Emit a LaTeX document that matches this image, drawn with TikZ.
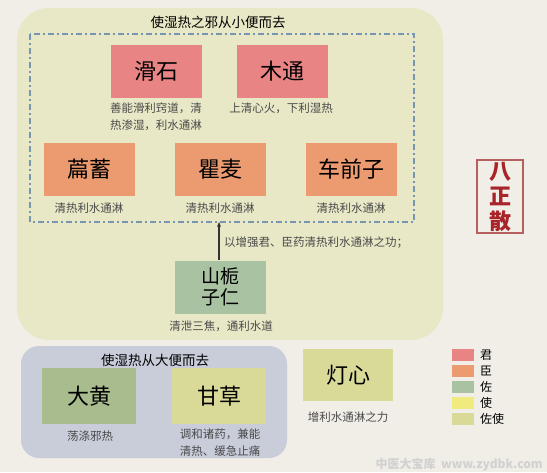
\documentclass[tikz,border=0pt]{standalone}
\usepackage{fontspec}
\setmainfont{Noto Sans CJK SC}
\usetikzlibrary{arrows.meta}
\definecolor{bgc}{HTML}{F1EEE8}
\definecolor{bigc}{HTML}{E8E7C6}
\definecolor{lowc}{HTML}{C9CDDA}
\definecolor{junc}{HTML}{E88484}
\definecolor{chenc}{HTML}{EC9A70}
\definecolor{zuoc}{HTML}{A9C2A2}
\definecolor{dahc}{HTML}{A9BC8E}
\definecolor{shic}{HTML}{F1EA7E}
\definecolor{zuoshic}{HTML}{D9DA98}
\definecolor{dashc}{HTML}{7895B4}
\definecolor{txtc}{HTML}{4A4A4A}
\definecolor{redc}{HTML}{A82428}
\definecolor{redb}{HTML}{B86060}
\tikzset{
  herb/.style={minimum width=91pt, minimum height=53pt, inner sep=0pt, font=\fontsize{22}{24}\selectfont, text=black},
  desc/.style={font=\fontsize{11.5}{17}\selectfont, text=txtc, inner sep=0pt, align=center},
  ttl/.style={font=\fontsize{13.5}{16}\selectfont, text=black, inner sep=0pt},
  sw/.style={minimum width=22pt, minimum height=12pt, inner sep=0pt},
  lg/.style={font=\fontsize{12}{14}\selectfont, text=black, inner sep=0pt, anchor=west}
}
\begin{document}
\begin{tikzpicture}[x=1pt,y=-1pt]
\fill[bgc] (0,0) rectangle (547,472);
\useasboundingbox (0,0) rectangle (547,472);
% big region
\fill[bigc, rounded corners=32pt] (17,8) rectangle (443,340);
\node[ttl] (t1) at (218,22) {使湿热之邪从小便而去};
\draw[dashc, line width=1.1pt, dash pattern=on 6pt off 3pt on 2pt off 3pt] (30,34) rectangle (414,222);
\coordinate (dashbot) at (219,222);
% jun
\node[herb, fill=junc] (huashi) at (156.5,71.5) {滑石};
\node[herb, fill=junc] (mutong) at (282.5,71.5) {木通};
\node[desc, anchor=north] (d1) at (156,103) {善能滑利窍道，清\\热渗湿，利水通淋};
\node[desc, anchor=north] (d2) at (281,103) {上清心火，下利湿热};
% chen
\node[herb, fill=chenc] (bianxu) at (89.5,169) {萹蓄};
\node[herb, fill=chenc] (qumai) at (220.5,169) {瞿麦};
\node[herb, fill=chenc] (cheqian) at (351.5,169) {车前子};
\node[desc] (d3) at (89,208) {清热利水通淋};
\node[desc] (d4) at (220,208) {清热利水通淋};
\node[desc] (d5) at (351,208) {清热利水通淋};
% zhizi
\node[herb, fill=zuoc, font=\fontsize{19}{21}\selectfont, align=center] (zhizi) at (220.5,287) {山栀\\子仁};
\node[desc] (d6) at (221,326) {清泄三焦，通利水道};
\draw[-{Stealth[length=5pt,width=4pt]}, line width=1.2pt, black!80] (zhizi.north -| dashbot) -- (dashbot);
\node[desc, anchor=west] (d7) at (224,243) {以增强君、臣药清热利水通淋之功；};
% bottom region
\fill[lowc, rounded corners=18pt] (21,346) rectangle (287,458);
\node[ttl] (t2) at (155,360) {使湿热从大便而去};
\node[herb, fill=dahc, minimum width=94pt, minimum height=56pt] (dahuang) at (89,396) {大黄};
\node[herb, fill=zuoshic, minimum width=94pt, minimum height=56pt] (gancao) at (219,396) {甘草};
\node[desc] (d8) at (90,436) {荡涤邪热};
\node[desc, anchor=north] (d9) at (220,429) {调和诸药，兼能\\清热、缓急止痛};
\node[herb, fill=zuoshic, minimum width=90pt, minimum height=52pt] (dengxin) at (348,375) {灯心};
\node[desc] (d10) at (348,417) {增利水通淋之力};
% title box
\node[draw=redb, line width=1.6pt, fill=bgc, minimum width=46pt, minimum height=73pt, inner sep=0pt, align=center, text=redc, font=\fontsize{22}{25}\selectfont\bfseries] (bzs) at (500,196.5) {八\\正\\散};
% legend
\node[sw, fill=junc] (s1) at (463,355) {};
\node[sw, fill=chenc] (s2) at (463,371) {};
\node[sw, fill=zuoc] (s3) at (463,387) {};
\node[sw, fill=shic] (s4) at (463,403) {};
\node[sw, fill=zuoshic] (s5) at (463,419) {};
\node[lg] (l1) at (480,355) {君};
\node[lg] (l2) at (480,371) {臣};
\node[lg] (l3) at (480,387) {佐};
\node[lg] (l4) at (480,403) {使};
\node[lg] (l5) at (480,419) {佐使};
% watermark
\node[font=\fontsize{12}{14}\selectfont\bfseries, text=black!18, anchor=east, inner sep=0pt] (wm) at (543,465) {中医大宝库\ \ www.zydbk.com};
\end{tikzpicture}
\end{document}
